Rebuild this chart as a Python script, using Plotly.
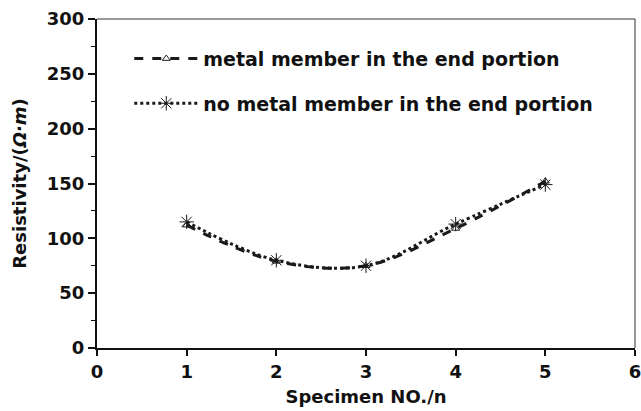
import plotly.graph_objects as go

specimen = [1, 2, 3, 4, 5]
metal_member = [112, 79, 75, 109, 152]
no_metal_member = [115, 80, 75, 113, 149]
names = ["metal member in the end portion", "no metal member in the end portion"]

FONT = "DejaVu Sans, Arial, sans-serif"

fig = go.Figure()
fig.add_trace(go.Scatter(
    x=specimen, y=metal_member, name="<b>" + names[0] + "</b>", mode="lines+markers",
    line=dict(color="#1a1a1a", width=3, dash="dash", shape="spline"),
    marker=dict(symbol="triangle-up-open", size=7, color="#1a1a1a", line=dict(width=1)),
    legendgroup="a"))
fig.add_trace(go.Scatter(
    x=specimen, y=no_metal_member, name="<b>" + names[1] + "</b>", mode="lines+markers",
    line=dict(color="#1a1a1a", width=3, dash="dot", shape="spline"),
    marker=dict(symbol="asterisk-open", size=12, color="#1a1a1a", line=dict(width=1, color="#1a1a1a")),
    legendgroup="b"))

tickvals_x = [0, 1, 2, 3, 4, 5, 6]
tickvals_y = [0, 50, 100, 150, 200, 250, 300]

fig.update_layout(
    width=641, height=411,
    margin=dict(l=97, r=6, t=19, b=63),
    plot_bgcolor="white", paper_bgcolor="white",
    font=dict(family=FONT, size=18, color="#111"),
    showlegend=True,
    legend=dict(x=0.06, y=0.937, xanchor="left", yanchor="top",
                bgcolor="rgba(0,0,0,0)", tracegroupgap=17, itemwidth=64,
                font=dict(family=FONT, size=19, color="#111")),
    xaxis=dict(range=[0, 6], tickvals=tickvals_x,
               ticktext=["<b>%d</b>" % v for v in tickvals_x],
               showgrid=False, zeroline=False, automargin=False,
               ticklabeloverflow="allow",
               showline=True, linecolor="#111", linewidth=2, mirror=False,
               ticks="outside", ticklen=6, tickwidth=1.5, tickcolor="#111",
               title=dict(text="<b>Specimen NO./n</b>", standoff=10,
                          font=dict(family=FONT, size=18)),
               tickfont=dict(family=FONT, size=18)),
    yaxis=dict(range=[0, 300], tickvals=tickvals_y,
               ticktext=["<b>%d</b>" % v for v in tickvals_y],
               showgrid=False, zeroline=False, automargin=False,
               ticklabeloverflow="allow",
               showline=True, linecolor="#111", linewidth=2, mirror=False,
               ticks="outside", ticklen=7, tickwidth=1.5, tickcolor="#111",
               minor=dict(dtick=25, tick0=0, ticks="outside", ticklen=4, tickcolor="#111", tickwidth=1),
               title=dict(text="<b>Resistivity/(<i>Ω·m</i>)</b>", standoff=16,
                          font=dict(family=FONT, size=18)),
               tickfont=dict(family=FONT, size=18)),
    shapes=[
        dict(type="line", xref="paper", yref="paper", x0=0, x1=1, y0=1, y1=1,
             line=dict(color="#333", width=1)),
        dict(type="line", xref="paper", yref="paper", x0=1, x1=1, y0=0, y1=1,
             line=dict(color="#333", width=1)),
    ],
)

fig.write_html("out.html")
